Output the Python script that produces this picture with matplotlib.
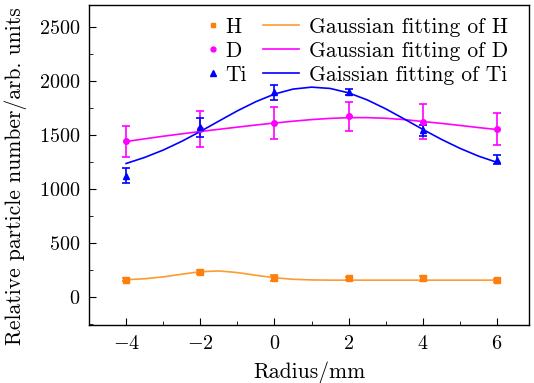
import matplotlib
matplotlib.use("Agg")
import matplotlib.pyplot as plt
from matplotlib.ticker import MultipleLocator

plt.rcParams['font.family'] = 'serif'
plt.rcParams['font.serif'] = ['cmr10']
plt.rcParams['mathtext.fontset'] = 'cm'
plt.rcParams['axes.formatter.use_mathtext'] = True

# measured points
radius = [-4, -2, 0, 2, 4, 6]
h_val = [160, 228, 176, 172, 172, 152]
h_err = [15, 20, 25, 15, 25, 12]
d_val = [1438, 1552, 1608, 1670, 1620, 1552]
d_err = [140, 170, 150, 135, 160, 145]
ti_val = [1122, 1568, 1892, 1895, 1540, 1268]
ti_err = [70, 90, 70, 25, 50, 40]

# fitted curves, every 0.5 mm
fit_x = [-4, -3.5, -3, -2.5, -2, -1.5, -1, -0.5, 0, 0.5, 1,
         1.5, 2, 2.5, 3, 3.5, 4, 4.5, 5, 5.5, 6]
h_fit = [159, 168, 185, 210, 233, 240, 225, 200, 177, 163, 157,
         155, 155, 155, 155, 155, 155, 155, 155, 155, 155]
d_fit = [1437, 1462, 1486, 1508, 1530, 1550, 1570, 1590, 1608, 1625, 1640,
         1651, 1658, 1658, 1652, 1640, 1622, 1605, 1586, 1566, 1548]
ti_fit = [1234, 1290, 1358, 1439, 1530, 1626, 1721, 1806, 1876, 1922, 1940,
          1928, 1887, 1822, 1739, 1645, 1549, 1457, 1374, 1302, 1244]

c_h = '#ff7f0e'
c_hl = '#ff9a2e'
c_d = '#ff00ff'
c_ti = '#0000ff'

fig = plt.figure(figsize=(5.34, 3.83), dpi=100)
ax = fig.add_axes([0.1667, 0.1514, 0.8239, 0.8356])

eb = dict(linestyle='none', capsize=3, elinewidth=1.2, capthick=1.2)
ax.errorbar(radius, h_val, yerr=h_err, fmt='s', color=c_h, ms=4, **eb)
ax.errorbar(radius, d_val, yerr=d_err, fmt='o', color=c_d, ms=4, **eb)
ax.errorbar(radius, ti_val, yerr=ti_err, fmt='^', color=c_ti, ms=4.5, **eb)

lh, = ax.plot(fit_x, h_fit, color=c_hl, lw=1.2)
ld, = ax.plot(fit_x, d_fit, color=c_d, lw=1.2)
lt, = ax.plot(fit_x, ti_fit, color=c_ti, lw=1.2)

ax.set_xlim(-5, 6.86)
ax.set_ylim(-260, 2700)
ax.xaxis.set_major_locator(MultipleLocator(2))
ax.xaxis.set_minor_locator(MultipleLocator(1))
ax.yaxis.set_major_locator(MultipleLocator(500))
ax.yaxis.set_minor_locator(MultipleLocator(250))
ax.tick_params(which='both', direction='in', labelsize=14.5)
ax.tick_params(which='major', length=5)
ax.tick_params(which='minor', length=3)
ax.tick_params(axis='x', pad=7)
ax.tick_params(axis='y', pad=6)
for s in ax.spines.values():
    s.set_linewidth(1.0)

ax.set_xlabel('Radius/mm', fontsize=15.5, labelpad=6)
ax.set_ylabel('Relative particle number/arb. units', fontsize=15.5)
ax.yaxis.set_label_coords(-0.14, 0.466)

# two legends so the marker column can have a short handle
hm, = ax.plot([], [], 's', color=c_h, ms=3.5)
dm, = ax.plot([], [], 'o', color=c_d, ms=3.5)
tm, = ax.plot([], [], '^', color=c_ti, ms=4)
leg1 = ax.legend([hm, dm, tm], ['H', 'D', 'Ti'],
                 frameon=False, loc='upper left', bbox_to_anchor=(0.266, 0.961),
                 fontsize=15.5, handlelength=0.6, handletextpad=0.3,
                 labelspacing=0.2, borderpad=0, borderaxespad=0)
ax.add_artist(leg1)
ax.legend([lh, ld, lt],
          ['Gaussian fitting of H', 'Gaussian fitting of D',
           'Gaissian fitting of Ti'],
          frameon=False, loc='upper left', bbox_to_anchor=(0.395, 0.961),
          fontsize=15.5, handlelength=1.7, handletextpad=0.45,
          labelspacing=0.2, borderpad=0, borderaxespad=0)

fig.savefig('out.png', dpi=100)
